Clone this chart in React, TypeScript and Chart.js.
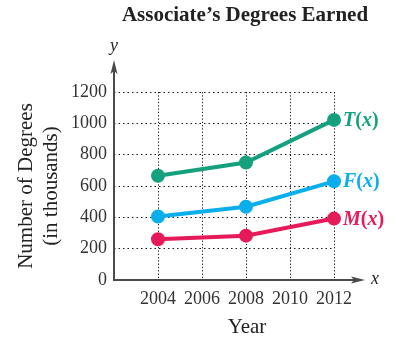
import React, { useEffect, useRef } from "react";
import { Chart, registerables } from "chart.js";

Chart.register(...registerables);

const years = [2004, 2008, 2012];
const totalValues = [665, 750, 1022];
const femaleValues = [405, 468, 630];
const maleValues = [260, 283, 392];
const seriesNames = ["T", "F", "M"];
const seriesColors = ["#15a07e", "#0aaeea", "#e61a58"];
const xTickYears = [2004, 2006, 2008, 2010, 2012];
const yTicks = [0, 200, 400, 600, 800, 1000, 1200];

const SERIF = "'Liberation Serif', 'DejaVu Serif', serif";

const overlayPlugin = {
  id: "overlay",
  afterDraw(chart: any) {
    const ctx = chart.ctx;
    const xs = chart.scales.x;
    const ys = chart.scales.y;
    const ca = chart.chartArea;
    ctx.save();
    const axisColor = "#4a4a4a";
    ctx.strokeStyle = axisColor;
    ctx.fillStyle = axisColor;
    ctx.lineWidth = 2;
    const x0 = ca.left;
    const y0 = ca.bottom;
    const yTip = ca.top - 32;
    const xTip = ca.right + 31;
    ctx.beginPath();
    ctx.moveTo(x0, y0 + 1);
    ctx.lineTo(x0, yTip + 6);
    ctx.stroke();
    ctx.beginPath();
    ctx.moveTo(x0 - 1, y0);
    ctx.lineTo(xTip - 6, y0);
    ctx.stroke();
    ctx.beginPath();
    ctx.moveTo(x0, yTip);
    ctx.lineTo(x0 + 3.5, yTip + 14);
    ctx.lineTo(x0, yTip + 11);
    ctx.lineTo(x0 - 3.5, yTip + 14);
    ctx.closePath();
    ctx.fill();
    ctx.beginPath();
    ctx.moveTo(xTip, y0);
    ctx.lineTo(xTip - 14, y0 - 3.5);
    ctx.lineTo(xTip - 11, y0);
    ctx.lineTo(xTip - 14, y0 + 3.5);
    ctx.closePath();
    ctx.fill();
    ctx.fillStyle = "#222";
    ctx.font = `italic 18px ${SERIF}`;
    ctx.textAlign = "center";
    ctx.textBaseline = "middle";
    ctx.fillText("y", x0, yTip - 14);
    ctx.textAlign = "left";
    ctx.fillText("x", xTip + 6, y0 - 1);
    ctx.font = `bold 21px ${SERIF}`;
    ctx.textAlign = "center";
    ctx.fillStyle = "#222";
    ctx.fillText("Associate\u2019s Degrees Earned", 245, 16);
    ctx.font = `21px ${SERIF}`;
    ctx.fillText("Year", xs.getPixelForValue(2008) + 1, 327);
    const lastVals = [totalValues, femaleValues, maleValues];
    ctx.textBaseline = "middle";
    ctx.textAlign = "left";
    seriesNames.forEach((name, i) => {
      const vals = lastVals[i];
      const px = xs.getPixelForValue(years[years.length - 1]) + 9;
      const py = ys.getPixelForValue(vals[vals.length - 1]) + 1;
      ctx.fillStyle = seriesColors[i];
      const parts: [string, string][] = [
        [name, "italic bold"],
        ["(", "bold"],
        ["x", "italic bold"],
        [")", "bold"],
      ];
      let cx = px;
      parts.forEach(([t, st]) => {
        ctx.font = `${st} 20px ${SERIF}`;
        ctx.fillText(t, cx, py);
        cx += ctx.measureText(t).width;
      });
    });
    ctx.restore();
  },
};

export default function App() {
  const ref = useRef<HTMLCanvasElement | null>(null);
  useEffect(() => {
    if (!ref.current) return;
    const seriesData = [totalValues, femaleValues, maleValues];
    const chart = new Chart(ref.current, {
      type: "line",
      data: {
        datasets: seriesData.map((vals, i) => ({
          label: seriesNames[i],
          data: years.map((yr, j) => ({ x: yr, y: vals[j] })),
          borderColor: seriesColors[i],
          backgroundColor: seriesColors[i],
          borderWidth: 4,
          pointRadius: 5,
          pointHoverRadius: 5,
          tension: 0,
          clip: false as any,
        })),
      },
      options: {
        animation: false,
        responsive: true,
        maintainAspectRatio: false,
        layout: { padding: { top: 92, right: 62, left: 0, bottom: 0 } },
        plugins: {
          legend: { display: false },
          title: { display: false },
          tooltip: { enabled: false },
        },
        scales: {
          x: {
            type: "linear",
            min: 2002,
            max: 2012,
            afterBuildTicks: (scale: any) => {
              scale.ticks = [2002, ...xTickYears].map((v) => ({ value: v }));
            },
            afterFit: (scale: any) => {
              scale.height = 61;
            },
            grid: {
              color: "#1a1a1a",
              lineWidth: 1,
              drawTicks: false,
            },
            border: { display: false, dash: [1.3, 2] },
            ticks: {
              padding: 8,
              color: "#333",
              font: { family: SERIF, size: 18 },
              maxRotation: 0,
              autoSkip: false,
              callback: (v: any) => (xTickYears.includes(Number(v)) ? String(v) : ""),
            },
          },
          y: {
            type: "linear",
            min: 0,
            max: 1200,
            afterBuildTicks: (scale: any) => {
              scale.ticks = yTicks.map((v) => ({ value: v }));
            },
            afterFit: (scale: any) => {
              scale.width = 114;
            },
            grid: {
              color: "#1a1a1a",
              lineWidth: 1,
              drawTicks: false,
            },
            border: { display: false, dash: [1.5, 3] },
            ticks: {
              padding: 7,
              color: "#333",
              font: { family: SERIF, size: 18 },
              callback: (v: any) => String(v),
            },
            title: {
              display: true,
              text: ["Number of Degrees", "(in thousands)"],
              color: "#222",
              font: { family: SERIF, size: 21, lineHeight: 1.2 },
              padding: { top: 14, bottom: 0 },
            },
          },
        },
      },
      plugins: [overlayPlugin],
    });
    return () => chart.destroy();
  }, []);
  return (
    <div style={{ position: "fixed", left: 0, top: 0, width: 396, height: 341, background: "#fff" }}>
      <canvas ref={ref} />
    </div>
  );
}
